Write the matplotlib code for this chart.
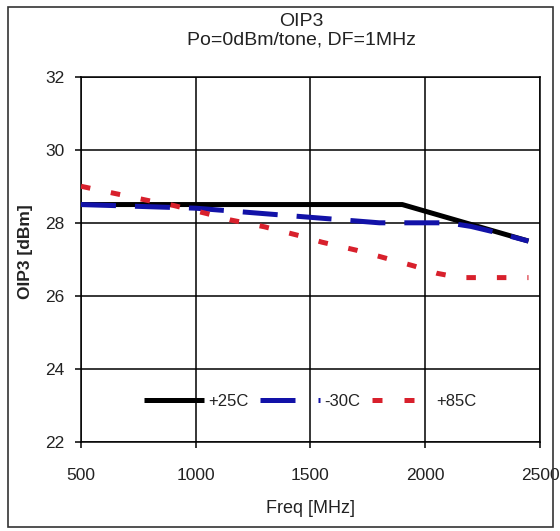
import matplotlib
matplotlib.use('Agg')
import matplotlib.pyplot as plt
from matplotlib.patches import Rectangle
from matplotlib.lines import Line2D

plt.rcParams['font.family'] = ['Liberation Sans', 'DejaVu Sans']

# data
freq_25 = [500, 1900, 2450]
oip3_25 = [28.5, 28.5, 27.5]

freq_m30 = [500, 1000, 1200, 1500, 1700, 1800, 2000, 2100, 2200, 2300, 2450]
oip3_m30 = [28.5, 28.4, 28.3, 28.15, 28.05, 28.0, 28.0, 28.0, 27.9, 27.75, 27.5]

freq_85 = [500, 650, 800, 900, 1050, 1150, 1300, 1450, 1550, 1700, 1800,
           1950, 2050, 2150, 2300, 2450]
oip3_85 = [29.0, 28.8, 28.6, 28.48, 28.25, 28.08, 27.89, 27.65, 27.47, 27.25,
           27.08, 26.82, 26.62, 26.5, 26.5, 26.5]

labels = ['+25C', '-30C', '+85C']
xticks = [500, 1000, 1500, 2000, 2500]
yticks = [22, 24, 26, 28, 30, 32]

BLACK = '#000000'
BLUE = '#1212A8'
RED = '#D8202C'
TXT = '#222222'

fig = plt.figure(figsize=(5.6, 5.31), dpi=100)
ax = fig.add_axes([0.1446, 0.1676, 0.8196, 0.688])

ax.plot(freq_25, oip3_25, color=BLACK, lw=3.6, solid_capstyle='butt', zorder=3)
ax.plot(freq_m30, oip3_m30, color=BLUE, lw=3.6, dashes=(7, 3.8),
        dash_capstyle='butt', zorder=4)
ax.plot(freq_85, oip3_85, color=RED, lw=3.6, dashes=(1.9, 4.2),
        dash_capstyle='butt', zorder=5)

ax.set_xlim(500, 2500)
ax.set_ylim(22, 32)
ax.set_xticks(xticks)
ax.set_yticks(yticks)
ax.grid(True, color=BLACK, lw=1.1)
ax.set_axisbelow(True)
for s in ax.spines.values():
    s.set_color(BLACK)
    s.set_linewidth(1.1)
ax.tick_params(axis='x', direction='out', length=4, width=1.1, pad=15,
               labelsize=12.5, labelcolor=TXT)
ax.tick_params(axis='y', direction='out', length=4, width=1.1, pad=8,
               labelsize=12.5, labelcolor=TXT)

ax.set_title('OIP3\nPo=0dBm/tone, DF=1MHz', fontsize=14, color=TXT, pad=23,
             linespacing=1.1, x=0.481)
ax.set_xlabel('Freq [MHz]', fontsize=13, color=TXT)
ax.xaxis.set_label_coords(0.5, -0.16)
ax.set_ylabel('OIP3 [dBm]', fontsize=12.5, fontweight='bold', color=TXT)
ax.yaxis.set_label_coords(-0.105, 0.52)

# legend proxies, the dash pattern of the handles is wider than on the plot
handles = [
    Line2D([], [], color=BLACK, lw=3.6, solid_capstyle='butt'),
    Line2D([], [], color=BLUE, lw=3.6, dashes=(7, 4.6, 0.8, 10), dash_capstyle='butt'),
    Line2D([], [], color=RED, lw=3.6, dashes=(2, 4.4), dash_capstyle='butt'),
]
leg = ax.legend(handles, labels, loc='center', bbox_to_anchor=(0.5, 0.11), ncol=3,
                frameon=False, fontsize=12, handlelength=3.6,
                handletextpad=0.25, columnspacing=0.7)
for t in leg.get_texts():
    t.set_color(TXT)

fig.patches.append(Rectangle((0.014, 0.008), 0.973, 0.979, transform=fig.transFigure,
                             fill=False, edgecolor='#333333', lw=1.2))

fig.savefig('out.png', dpi=100)
